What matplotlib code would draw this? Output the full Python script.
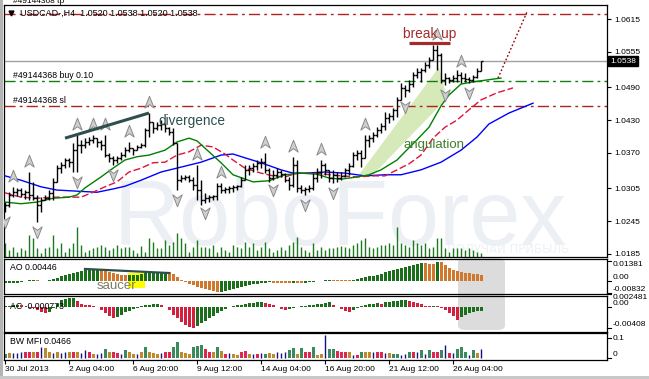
import numpy as np
import matplotlib as mpl
mpl.use('agg')
import matplotlib.pyplot as plt
import matplotlib.transforms as mtransforms
from matplotlib.path import Path
from matplotlib.patches import Polygon, Rectangle, FancyBboxPatch

plt.rcParams['font.family'] = ['Liberation Sans', 'DejaVu Sans']

## H4 bars of USDCAD (bar index 0 = 30 Jul 2013)
opens = [1.0270, 1.0275, 1.0293, 1.0298, 1.0302, 1.0295, 1.0298, 1.0293, 1.0287, 1.0275,
         1.0284, 1.0287, 1.0297, 1.0317, 1.0342, 1.0348, 1.0357, 1.0353, 1.0375, 1.0384,
         1.0384, 1.0390, 1.0394, 1.0397, 1.0390, 1.0384, 1.0366, 1.0361, 1.0357, 1.0361,
         1.0366, 1.0375, 1.0379, 1.0375, 1.0381, 1.0384, 1.0412, 1.0427, 1.0416, 1.0421,
         1.0423, 1.0416, 1.0408, 1.0388, 1.0320, 1.0324, 1.0326, 1.0320, 1.0311, 1.0302,
         1.0284, 1.0287, 1.0289, 1.0291, 1.0309, 1.0302, 1.0304, 1.0306, 1.0308, 1.0309,
         1.0320, 1.0339, 1.0342, 1.0346, 1.0352, 1.0353, 1.0339, 1.0324, 1.0330, 1.0335,
         1.0331, 1.0320, 1.0311, 1.0348, 1.0306, 1.0302, 1.0304, 1.0306, 1.0324, 1.0335,
         1.0348, 1.0339, 1.0324, 1.0330, 1.0324, 1.0328, 1.0339, 1.0346, 1.0366, 1.0370,
         1.0361, 1.0394, 1.0397, 1.0403, 1.0412, 1.0419, 1.0434, 1.0438, 1.0449, 1.0467,
         1.0489, 1.0485, 1.0496, 1.0513, 1.0518, 1.0522, 1.0531, 1.0540, 1.0558, 1.0549,
         1.0503, 1.0507, 1.0503, 1.0507, 1.0513, 1.0507, 1.0505, 1.0503, 1.0509, 1.0520]
highs = [1.0280, 1.0298, 1.0308, 1.0306, 1.0306, 1.0302, 1.0335, 1.0317, 1.0293, 1.0289,
         1.0293, 1.0302, 1.0324, 1.0348, 1.0353, 1.0361, 1.0361, 1.0388, 1.0403, 1.0394,
         1.0397, 1.0399, 1.0403, 1.0397, 1.0394, 1.0403, 1.0370, 1.0364, 1.0364, 1.0372,
         1.0381, 1.0390, 1.0379, 1.0384, 1.0388, 1.0416, 1.0443, 1.0427, 1.0427, 1.0430,
         1.0423, 1.0417, 1.0416, 1.0388, 1.0330, 1.0330, 1.0330, 1.0326, 1.0348, 1.0320,
         1.0297, 1.0293, 1.0293, 1.0315, 1.0315, 1.0308, 1.0309, 1.0311, 1.0311, 1.0326,
         1.0348, 1.0348, 1.0352, 1.0357, 1.0361, 1.0370, 1.0342, 1.0339, 1.0342, 1.0339,
         1.0333, 1.0326, 1.0363, 1.0357, 1.0311, 1.0308, 1.0311, 1.0333, 1.0342, 1.0357,
         1.0352, 1.0339, 1.0339, 1.0335, 1.0335, 1.0342, 1.0352, 1.0372, 1.0375, 1.0375,
         1.0403, 1.0403, 1.0408, 1.0417, 1.0425, 1.0445, 1.0443, 1.0452, 1.0472, 1.0498,
         1.0494, 1.0503, 1.0518, 1.0525, 1.0525, 1.0536, 1.0545, 1.0567, 1.0567, 1.0553,
         1.0516, 1.0509, 1.0513, 1.0522, 1.0518, 1.0516, 1.0509, 1.0513, 1.0525, 1.0538]
lows = [1.0262, 1.0271, 1.0289, 1.0291, 1.0289, 1.0286, 1.0284, 1.0284, 1.0244, 1.0262,
        1.0284, 1.0284, 1.0284, 1.0317, 1.0333, 1.0342, 1.0344, 1.0335, 1.0335, 1.0370,
        1.0379, 1.0384, 1.0388, 1.0381, 1.0375, 1.0363, 1.0353, 1.0348, 1.0352, 1.0357,
        1.0363, 1.0372, 1.0366, 1.0375, 1.0379, 1.0381, 1.0399, 1.0406, 1.0412, 1.0412,
        1.0408, 1.0403, 1.0384, 1.0302, 1.0317, 1.0320, 1.0317, 1.0302, 1.0284, 1.0275,
        1.0278, 1.0280, 1.0284, 1.0284, 1.0297, 1.0297, 1.0297, 1.0298, 1.0302, 1.0308,
        1.0320, 1.0330, 1.0335, 1.0339, 1.0342, 1.0333, 1.0317, 1.0320, 1.0324, 1.0326,
        1.0317, 1.0302, 1.0308, 1.0298, 1.0297, 1.0293, 1.0298, 1.0302, 1.0317, 1.0324,
        1.0330, 1.0317, 1.0315, 1.0317, 1.0320, 1.0326, 1.0330, 1.0344, 1.0357, 1.0344,
        1.0361, 1.0381, 1.0390, 1.0399, 1.0406, 1.0412, 1.0425, 1.0430, 1.0436, 1.0467,
        1.0472, 1.0481, 1.0491, 1.0507, 1.0500, 1.0518, 1.0525, 1.0540, 1.0522, 1.0498,
        1.0494, 1.0498, 1.0500, 1.0500, 1.0498, 1.0500, 1.0498, 1.0500, 1.0507, 1.0520]
closes = [1.0275, 1.0293, 1.0298, 1.0302, 1.0295, 1.0298, 1.0293, 1.0287, 1.0275, 1.0284,
          1.0287, 1.0297, 1.0317, 1.0342, 1.0348, 1.0357, 1.0353, 1.0375, 1.0384, 1.0384,
          1.0390, 1.0394, 1.0397, 1.0390, 1.0384, 1.0366, 1.0361, 1.0357, 1.0361, 1.0366,
          1.0375, 1.0379, 1.0375, 1.0381, 1.0384, 1.0412, 1.0427, 1.0416, 1.0421, 1.0423,
          1.0416, 1.0408, 1.0388, 1.0320, 1.0324, 1.0326, 1.0320, 1.0311, 1.0302, 1.0284,
          1.0287, 1.0289, 1.0291, 1.0309, 1.0302, 1.0304, 1.0306, 1.0308, 1.0309, 1.0320,
          1.0339, 1.0342, 1.0346, 1.0352, 1.0353, 1.0339, 1.0324, 1.0330, 1.0335, 1.0331,
          1.0320, 1.0311, 1.0348, 1.0306, 1.0302, 1.0304, 1.0306, 1.0324, 1.0335, 1.0348,
          1.0339, 1.0324, 1.0330, 1.0324, 1.0328, 1.0339, 1.0346, 1.0366, 1.0370, 1.0361,
          1.0394, 1.0397, 1.0403, 1.0412, 1.0419, 1.0434, 1.0438, 1.0449, 1.0467, 1.0489,
          1.0485, 1.0496, 1.0513, 1.0518, 1.0522, 1.0531, 1.0540, 1.0558, 1.0549, 1.0503,
          1.0507, 1.0503, 1.0507, 1.0513, 1.0507, 1.0505, 1.0503, 1.0509, 1.0520, 1.0538]
volumes = [1370, 700, 1000, 500, 870, 700, 2200, 1870, 870, 370,
           870, 1030, 2200, 870, 1370, 530, 870, 1370, 3000, 1200,
           530, 700, 870, 1030, 1200, 1030, 700, 870, 1200, 870,
           1030, 1030, 700, 370, 1100, 530, 1870, 1530, 870, 870,
           1700, 1200, 1530, 2370, 1870, 1370, 530, 1030, 1700, 1030,
           1030, 870, 1200, 530, 1030, 700, 530, 1200, 1030, 870,
           1530, 1030, 1370, 700, 1030, 1530, 870, 530, 700, 1030,
           700, 1200, 1530, 2030, 1030, 700, 530, 1370, 700, 1030,
           700, 870, 870, 1030, 1100, 1030, 870, 1200, 1370, 1700,
           1870, 1030, 870, 1030, 1200, 1200, 1370, 1200, 3030, 1370,
           1200, 1030, 1700, 1370, 1200, 1370, 870, 1030, 1870, 1870,
           870, 530, 870, 930, 870, 700, 870, 700, 530, 430]

## Alligator lines (jaw / teeth / lips)
jaw_x = [0, 4, 9, 13, 18, 23, 27, 30, 34, 39, 44, 49, 54, 57, 60, 64, 69, 72, 75, 80,
         85, 90, 95, 99, 104, 109, 114, 118, 121, 126, 132]
jaw = [1.0328, 1.0320, 1.0308, 1.0302, 1.0300, 1.0298, 1.0304, 1.0309, 1.0320, 1.0335,
       1.0344, 1.0353, 1.0366, 1.0368, 1.0361, 1.0352, 1.0339, 1.0333, 1.0333, 1.0335,
       1.0333, 1.0328, 1.0330, 1.0330, 1.0339, 1.0353, 1.0375, 1.0399, 1.0423, 1.0443, 1.0461]
teeth_x = [0, 4, 8, 12, 16, 19, 22, 25, 28, 31, 34, 37, 40, 43, 46, 49, 52, 55, 57, 60,
           64, 67, 70, 73, 77, 80, 84, 88, 92, 95, 98, 101, 104, 107, 110, 113, 116, 119, 123, 127]
teeth = [1.0297, 1.0289, 1.0287, 1.0289, 1.0289, 1.0289, 1.0298, 1.0308, 1.0317, 1.0335,
         1.0342, 1.0352, 1.0353, 1.0366, 1.0372, 1.0384, 1.0381, 1.0368, 1.0357, 1.0342,
         1.0333, 1.0328, 1.0326, 1.0333, 1.0333, 1.0331, 1.0328, 1.0326, 1.0328, 1.0328,
         1.0339, 1.0350, 1.0366, 1.0397, 1.0417, 1.0430, 1.0449, 1.0467, 1.0480, 1.0489]
lips_x = [0, 4, 8, 12, 16, 18, 20, 24, 27, 30, 33, 36, 40, 43, 46, 48, 51, 54, 57, 62,
          66, 70, 74, 78, 81, 84, 88, 91, 94, 98, 100, 103, 106, 109, 111, 114, 117, 120, 124]
lips = [1.0280, 1.0277, 1.0280, 1.0287, 1.0289, 1.0293, 1.0306, 1.0326, 1.0342, 1.0357,
        1.0363, 1.0366, 1.0375, 1.0390, 1.0397, 1.0392, 1.0372, 1.0352, 1.0330, 1.0317,
        1.0319, 1.0330, 1.0333, 1.0331, 1.0324, 1.0322, 1.0326, 1.0330, 1.0339, 1.0357,
        1.0372, 1.0394, 1.0417, 1.0456, 1.0476, 1.0496, 1.0500, 1.0503, 1.0507]

## fractals (bar indices)
frac_up = [2, 6, 18, 22, 25, 31, 36, 48, 54, 65, 72, 79, 90, 108, 114]
frac_dn = [0, 8, 18, 27, 43, 50, 67, 75, 82, 100, 110, 116]

## oscillators
ao = [-0.0016, -0.0015, -0.0014, -0.0011, -0.0005, -0.0001, 0.0004, 0.0006, 0.0005, 0.0003,
      0.0002, 0.0007, 0.0014, 0.0023, 0.0034, 0.0041, 0.0051, 0.0057, 0.0064, 0.0071,
      0.0076, 0.0078, 0.0080, 0.0082, 0.0078, 0.0071, 0.0064, 0.0057, 0.0051, 0.0044,
      0.0039, 0.0040, 0.0042, 0.0043, 0.0046, 0.0053, 0.0060, 0.0061, 0.0062, 0.0063,
      0.0064, 0.0060, 0.0046, 0.0028, 0.0009, -0.0009, -0.0021, -0.0030, -0.0039, -0.0048,
      -0.0055, -0.0062, -0.0069, -0.0076, -0.0074, -0.0069, -0.0062, -0.0053, -0.0046, -0.0039,
      -0.0032, -0.0028, -0.0023, -0.0018, -0.0014, -0.0011, -0.0010, -0.0011, -0.0012, -0.0013,
      -0.0014, -0.0015, -0.0014, -0.0016, -0.0017, -0.0013, -0.0010, -0.0006, -0.0003, 0.0000,
      0.0004, 0.0009, 0.0008, 0.0007, 0.0006, 0.0005, 0.0004, 0.0009, 0.0016, 0.0023,
      0.0028, 0.0032, 0.0037, 0.0041, 0.0051, 0.0060, 0.0069, 0.0076, 0.0083, 0.0092,
      0.0099, 0.0106, 0.0113, 0.0117, 0.0122, 0.0121, 0.0120, 0.0119, 0.0133, 0.0129,
      0.0110, 0.0092, 0.0078, 0.0069, 0.0060, 0.0055, 0.0053, 0.0051, 0.0048, 0.00446]
ac = [0.0001, 0.0002, 0.0003, 0.0004, 0.0003, 0.0000, -0.0002, -0.0003, -0.0006, -0.0010,
      -0.0013, -0.0011, -0.0003, 0.0006, 0.0013, 0.0015, 0.0016, 0.00162, 0.0010, 0.0006,
      0.0004, 0.0003, 0.0002, 0.0000, -0.0006, -0.0013, -0.0017, -0.0021, -0.0019, -0.0015,
      -0.0011, -0.0008, -0.0005, -0.0002, 0.0001, 0.0003, 0.0004, 0.0005, 0.0006, 0.0003,
      0.0000, -0.0006, -0.0015, -0.0022, -0.0029, -0.0035, -0.0038, -0.0040, -0.0036, -0.0032,
      -0.0027, -0.0022, -0.0018, -0.0013, -0.0008, -0.0004, -0.0001, 0.0002, 0.0003, 0.0004,
      0.0006, 0.00065, 0.0007, 0.0008, 0.00085, 0.0007, 0.0005, 0.0003, 0.0000, -0.0004,
      -0.0006, -0.0004, -0.0002, 0.0000, 0.0001, 0.0002, 0.0003, 0.0004, 0.0005, 0.0006,
      0.0007, 0.0008, 0.0004, 0.0000, -0.0004, -0.0008, -0.0010, -0.0006, -0.0002, 0.0001,
      0.0003, 0.0005, 0.0006, 0.0007, 0.0006, 0.0008, 0.0009, 0.0010, 0.0011, 0.0012,
      0.0013, 0.0011, 0.0009, 0.0007, 0.0005, 0.0002, 0.0001, 0.0002, 0.0001, -0.0002,
      -0.0006, -0.0012, -0.0018, -0.0026, -0.0020, -0.0015, -0.0012, -0.0010, -0.0009, -0.000773]
mfi = [0.020, 0.025, 0.028, 0.025, 0.033, 0.033, 0.033, 0.030, 0.030, 0.057,
       0.050, 0.030, 0.028, 0.030, 0.025, 0.033, 0.033, 0.030, 0.030, 0.027,
       0.042, 0.033, 0.023, 0.020, 0.025, 0.047, 0.033, 0.030, 0.027, 0.023,
       0.042, 0.030, 0.020, 0.023, 0.030, 0.057, 0.030, 0.027, 0.020, 0.025,
       0.030, 0.030, 0.057, 0.080, 0.033, 0.027, 0.020, 0.057, 0.060, 0.067,
       0.047, 0.030, 0.030, 0.057, 0.037, 0.020, 0.025, 0.023, 0.017, 0.030,
       0.037, 0.023, 0.020, 0.020, 0.025, 0.023, 0.025, 0.023, 0.033, 0.027,
       0.030, 0.040, 0.050, 0.023, 0.053, 0.033, 0.030, 0.057, 0.017, 0.023,
       0.117, 0.047, 0.045, 0.037, 0.033, 0.030, 0.030, 0.017, 0.017, 0.030,
       0.033, 0.033, 0.030, 0.030, 0.033, 0.025, 0.025, 0.020, 0.020, 0.017,
       0.022, 0.030, 0.030, 0.030, 0.040, 0.023, 0.042, 0.030, 0.030, 0.042,
       0.067, 0.025, 0.025, 0.047, 0.057, 0.033, 0.017, 0.042, 0.025, 0.0466]
# G = green, F = fade, K = fake, S = squat
mfi_kind = list("GFKKKSSFSK" "FFKFKKFSFK" "KSFKKGFSSK" "GFFKFGFFFK"
                "SSGGFFFGGG" "SSFGFSKFFS" "SFKSKGFFKK" "KGGFGSSGFF"
                "KGGSSSFKSG" "FFKSSKFGGK" "KGSKGKGSSG" "KSKGGGKGFK")

date_pos = [0, 16, 32, 48, 64, 80, 96, 112]
date_labels = ['30 Jul 2013', '2 Aug 04:00', '6 Aug 20:00', '9 Aug 12:00',
               '14 Aug 04:00', '16 Aug 20:00', '21 Aug 12:00', '26 Aug 04:00']
price_ticks = [1.0615, 1.0555, 1.0490, 1.0430, 1.0370, 1.0305, 1.0245, 1.0185]

tp_price, buy_price, sl_price = 1.0624, 1.0502, 1.0456
order_id = '#49144368'

## hand-drawn analysis marks
div_x, div_p = [15, 36], [1.0397, 1.0443]
ao_div_x, ao_div_v = [20, 41], [0.0083, 0.0055]
fan_x, fan_p = [88.5, 108.5, 110.5, 92.0], [1.0330, 1.0527, 1.0470, 1.0330]
bu_x, bu_p = [101, 111.25], [1.0571, 1.0571]
fc_x, fc_p = [123.25, 130.5], [1.0507, 1.0628]

# ---------------------------------------------------------------- layout
W, H = 649, 379
fig = plt.figure(figsize=(W / 100, H / 100), dpi=100)
fig.patch.set_facecolor('white')

def rect(x0, y0, x1, y1):
    return [x0 / W, 1 - y1 / H, (x1 - x0) / W, (y1 - y0) / H]

XL = (-0.25, 150.5)
x = np.arange(len(closes))

axv = fig.add_axes(rect(4, 5, 607, 257), zorder=0)
ax = fig.add_axes(rect(4, 5, 607, 257), zorder=1)
ax_ao = fig.add_axes(rect(4, 259, 607, 294), zorder=1)
ax_ac = fig.add_axes(rect(4, 296, 607, 332), zorder=1)
ax_mf = fig.add_axes(rect(4, 333, 607, 360), zorder=1)
for a in (ax, ax_ao, ax_ac, ax_mf):
    a.set_facecolor('none')
    a.set_xlim(*XL)
    for s in a.spines.values():
        s.set_linewidth(0.9)
    a.set_xticks([])
    a.yaxis.tick_right()
    a.tick_params(axis='y', length=3, width=0.8, pad=2, labelsize=6)

# gray highlight box over the oscillators
fig.patches.append(FancyBboxPatch((458 / W, 1 - 330 / H), 47 / W, 72 / H,
                                  boxstyle='round,pad=0,rounding_size=0.012',
                                  transform=fig.transFigure, facecolor='#dcdcdc',
                                  edgecolor='none', zorder=-1))
# window frame
fig.patches.append(Rectangle((0, 0), 3 / W, 1, transform=fig.transFigure,
                             facecolor='#b4b4b4', edgecolor='none'))
fig.patches.append(Rectangle((0, 0), 1, 3 / H, transform=fig.transFigure,
                             facecolor='#c8c8c8', edgecolor='none'))

# ---------------------------------------------------------------- volumes + watermark
axv.set_xlim(*XL)
axv.set_ylim(0, 25200)
axv.axis('off')
axv.text(0.557, 0.048, 'RoboForex', transform=axv.transAxes, ha='center', va='baseline',
         fontsize=66, color='#ecf0f5', zorder=0)
axv.text(0.735, 0.028, 'ПОЛУЧАЙ ПРИБЫЛЬ', transform=axv.transAxes, ha='left', va='center',
         fontsize=8.5, color='#eef1f5', family='DejaVu Sans', zorder=0)
axv.vlines(x, 0, volumes, color='#1e7a1e', lw=1.0, zorder=2)

# ---------------------------------------------------------------- price panel
ax.set_ylim(1.01795, 1.06407)
ax.set_yticks(price_ticks)
ax.set_yticklabels(['%.4f' % p for p in price_ticks])

ax.add_patch(Polygon(list(zip(fan_x, fan_p)), closed=True, facecolor='#d6e9b8',
                     edgecolor='none', zorder=1))

dashdot = (0, (8, 3, 2, 3))
ax.axhline(tp_price, color='#b22222', lw=1, ls=dashdot, zorder=2)
ax.axhline(buy_price, color='#108010', lw=1, ls=dashdot, zorder=2)
ax.axhline(sl_price, color='#b22222', lw=1, ls=dashdot, zorder=2)
ax.axhline(closes[-1], color='#a0a0a0', lw=1, zorder=2)

ax.plot(jaw_x, jaw, color='#0000ff', lw=1, zorder=3)
ax.plot(teeth_x, teeth, color='#dc143c', lw=1, ls=(0, (5, 2)), zorder=3)
ax.plot(lips_x, lips, color='#008000', lw=1, zorder=3)

ax.vlines(x, lows, highs, color='black', lw=1.0, zorder=4)
ax.hlines(opens, x - 0.5, x, color='black', lw=1.0, zorder=4)
ax.hlines(closes, x, x + 0.5, color='black', lw=1.0, zorder=4)

arrow_up = Path([(0, 1), (0.75, -0.9), (0, -0.35), (-0.75, -0.9), (0, 1)],
                [Path.MOVETO, Path.LINETO, Path.LINETO, Path.LINETO, Path.CLOSEPOLY])
arrow_dn = Path([(0, -1), (0.75, 0.9), (0, 0.35), (-0.75, 0.9), (0, -1)],
                [Path.MOVETO, Path.LINETO, Path.LINETO, Path.LINETO, Path.CLOSEPOLY])
up_tr = mtransforms.offset_copy(ax.transData, fig=fig, x=0, y=11, units='dots')
dn_tr = mtransforms.offset_copy(ax.transData, fig=fig, x=0, y=-10, units='dots')
ax.plot(frac_up, [highs[i] for i in frac_up], ls='none', marker=arrow_up, ms=9,
        mfc='#cfcfcf', mec='#8a8a8a', mew=0.7, transform=up_tr, zorder=5)
ax.plot(frac_dn, [lows[i] for i in frac_dn], ls='none', marker=arrow_dn, ms=9,
        mfc='#cfcfcf', mec='#8a8a8a', mew=0.7, transform=dn_tr, zorder=5)

ax.plot(div_x, div_p, color='#2f4f4f', lw=2.2, solid_capstyle='butt', zorder=6)
ax.text(38.25, 1.0428, 'divergence', fontsize=9.8, color='#2f4f4f', va='center', zorder=6)
ax.plot(bu_x, bu_p, color='#a52a2a', lw=2.3, solid_capstyle='butt', zorder=6)
ax.text(99.5, 1.0588, 'break up', fontsize=9.8, color='#a52a2a', va='center', zorder=6)
ax.text(99.5, 1.0384, 'angulation', fontsize=9.5, color='#3f7f2a', va='center', zorder=6)
ax.plot(fc_x, fc_p, color='#8b0000', lw=1, ls=(0, (1.2, 1.6)), zorder=6)

ax.annotate(order_id + ' buy 0.10', xy=(0.015, buy_price), xycoords=('axes fraction', 'data'),
            xytext=(0, 1), textcoords='offset pixels', fontsize=6.3, va='bottom', zorder=6)
ax.annotate(order_id + ' sl', xy=(0.015, sl_price), xycoords=('axes fraction', 'data'),
            xytext=(0, 1), textcoords='offset pixels', fontsize=6.3, va='bottom', zorder=6)
ax.text(0.015, 1.0, order_id + ' tp', transform=ax.transAxes, fontsize=6.0,
        va='bottom', clip_on=False)
ax.text(0.027, 0.968, 'USDCAD-,H4  %.4f %.4f %.4f %.4f' % (opens[-1], highs[-1], lows[-1], closes[-1]),
        transform=ax.transAxes, fontsize=6.5, va='center', zorder=6)
ax.plot([0.012], [0.968], transform=ax.transAxes, marker='v', ms=3.5, color='black', zorder=6)

tr_r = mtransforms.blended_transform_factory(ax.transAxes, ax.transData)
ax.text(1.005, closes[-1], '%.4f' % closes[-1], transform=tr_r, fontsize=6, color='white',
        va='center', ha='left', clip_on=False,
        bbox=dict(facecolor='black', edgecolor='black', pad=1.2), zorder=7)


def side_labels(a, vals, labs, vas):
    tr = mtransforms.blended_transform_factory(a.transAxes, a.transData)
    a.set_yticks([])
    for v, s, va in zip(vals, labs, vas):
        a.plot([1.0, 1.006], [v, v], color='black', lw=0.8, transform=tr, clip_on=False)
        a.text(1.009, v, s, transform=tr, va=va, ha='left', fontsize=6, clip_on=False)


# ---------------------------------------------------------------- AO
up_c, dn_c = '#1b6e1b', '#d0792e'
ax_ao.set_ylim(-0.00897, 0.01517)
ao_col = [up_c] + [up_c if ao[i] > ao[i - 1] else dn_c for i in range(1, len(ao))]
ax_ao.add_patch(Rectangle((30.75, -0.0048), 4.25, 0.0103, facecolor='#ffff00',
                          edgecolor='none', zorder=1))
ax_ao.bar(x, ao, width=0.75, color=ao_col, linewidth=0, zorder=2)
ax_ao.plot(ao_div_x, ao_div_v, color='#2f4f4f', lw=1.6, zorder=3)
ax_ao.text(23, -0.0036, 'saucer', fontsize=9.5, color='#7a7a62', va='center', zorder=4)
ax_ao.text(0.01, 0.75, 'AO %.5f' % ao[-1], transform=ax_ao.transAxes, fontsize=6.3,
           va='center', zorder=4)
side_labels(ax_ao, [0.01381, 0, -0.00832], ['0.01381', '0.00', '-0.00832'],
            ['top', 'bottom', 'bottom'])

# ---------------------------------------------------------------- AC
ax_ac.set_ylim(-0.00483, 0.00203)
ac_col = ['#1b6e1b'] + ['#1b6e1b' if ac[i] > ac[i - 1] else '#d4203f' for i in range(1, len(ac))]
ax_ac.bar(x, ac, width=0.75, color=ac_col, linewidth=0, zorder=2)
ax_ac.text(0.01, 0.72, 'AC %.6f' % ac[-1], transform=ax_ac.transAxes, fontsize=6.3,
           va='center', zorder=4)
side_labels(ax_ac, [0.002481, 0, -0.00408], ['0.002481', '0.00', '-0.00408'],
            ['top', 'bottom', 'bottom'])

# ---------------------------------------------------------------- BW MFI
ax_mf.set_ylim(-0.0083, 0.1267)
kind_col = {'G': '#3b8a5c', 'F': '#bf8a2e', 'S': '#dc2850', 'K': '#12127e'}
wide = [i for i, k in enumerate(mfi_kind) if k != 'K']
thin = [i for i, k in enumerate(mfi_kind) if k == 'K']
ax_mf.bar(wide, [mfi[i] for i in wide], width=0.75, linewidth=0,
          color=[kind_col[mfi_kind[i]] for i in wide], zorder=2)
ax_mf.vlines(thin, 0, [mfi[i] for i in thin], color=kind_col['K'], lw=1.0, zorder=2)
ax_mf.text(0.01, 0.68, 'BW MFI %.4f' % mfi[-1], transform=ax_mf.transAxes, fontsize=6.3,
           va='center', zorder=4)
side_labels(ax_mf, [0.1, 0], ['0.1', '0'], ['center', 'bottom'])

ax_mf.set_xticks(date_pos)
ax_mf.set_xticklabels(date_labels, ha='left')
ax_mf.tick_params(axis='x', length=3, width=0.8, pad=1.5, labelsize=6)

fig.savefig('out.png', dpi=100)
